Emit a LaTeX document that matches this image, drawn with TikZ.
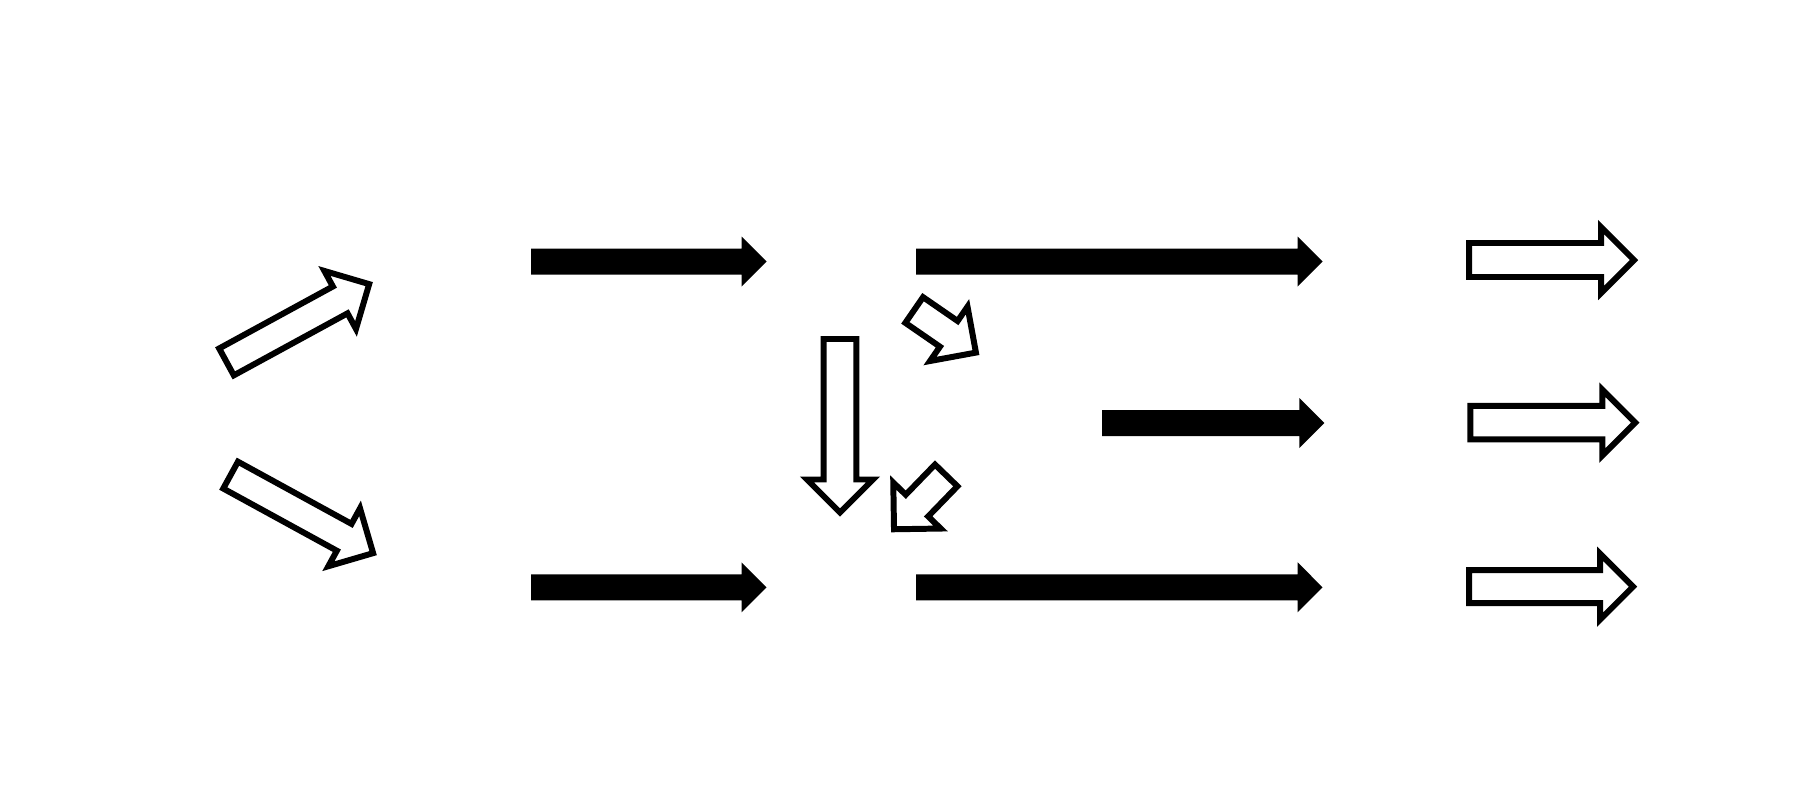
\documentclass[tikz,border=0pt]{standalone}
\tikzset{
  openarr/.style={draw=black,line width=3.4pt,fill=white,line join=miter,miter limit=20},
  solidarr/.style={fill=black,draw=none}
}
% #1 x tail, #2 y tail, #3 angle, #4 length, #5 shaft half width
\newcommand\OpenArr[5]{%
  \draw[openarr,shift={(#1,#2)},rotate=#3] (0,-#5) -- ({#4-33},-#5) -- ({#4-33},-33) -- (#4,0) -- ({#4-33},33) -- ({#4-33},#5) -- (0,#5) -- cycle;}
% #1 x tail, #2 y, #3 x head base, #4 x tip
\newcommand\SolidArr[4]{%
  \fill[solidarr] (#1,{#2-13}) -- (#3,{#2-13}) -- (#3,{#2-25}) -- (#4,#2) -- (#3,{#2+25}) -- (#3,{#2+13}) -- (#1,{#2+13}) -- cycle;}
\begin{document}
\begin{tikzpicture}[x=0.02cm,y=-0.02cm]
\useasboundingbox (0,0) rectangle (1798,802);
\fill[white] (0,0) rectangle (1798,802);
% solid arrows
\SolidArr{531}{261.5}{741.5}{766.5}
\SolidArr{916}{261.5}{1297.6}{1322.5}
\SolidArr{1102}{423}{1299.3}{1324.3}
\SolidArr{531}{587.3}{741.5}{766.5}
\SolidArr{916}{587.3}{1297.6}{1322.5}
% open arrows, right column
\OpenArr{1469}{260}{0}{165}{17}
\OpenArr{1470.3}{422.6}{0}{165}{16.8}
\OpenArr{1469}{586.7}{0}{164}{16.5}
% down arrow
\OpenArr{840}{339}{-90}{173.5}{16.3}
% left diagonal arrows
\OpenArr{226.5}{361.9}{28.6}{162.5}{15.3}
\OpenArr{230.6}{475.1}{-28.7}{162.5}{15.3}
% small middle arrows
\OpenArr{914.2}{310}{-34.6}{75}{15.6}
\OpenArr{946.2}{475.4}{-134.1}{75}{15.6}
\end{tikzpicture}
\end{document}
